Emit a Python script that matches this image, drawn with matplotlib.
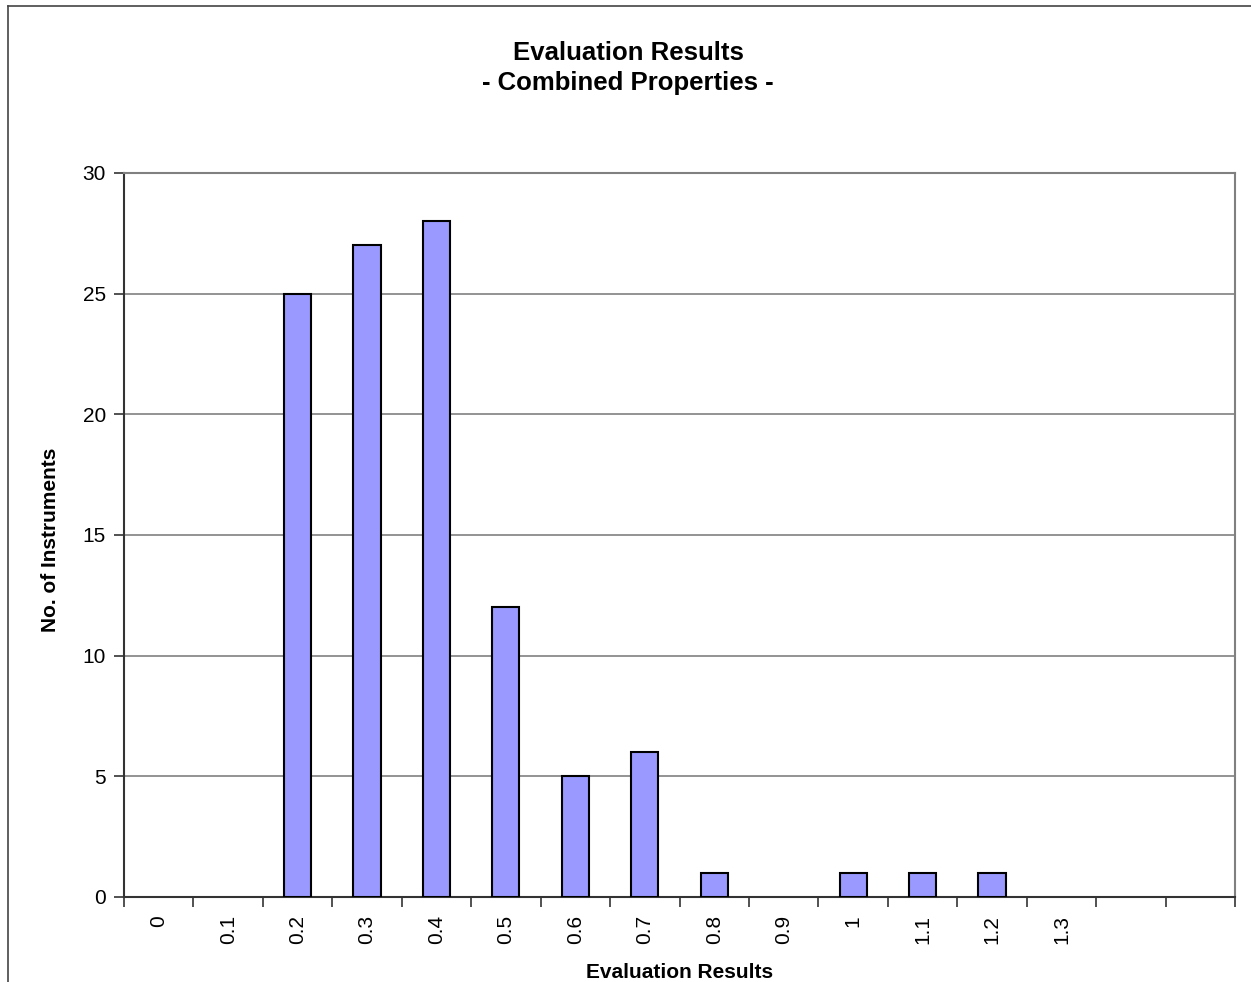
import numpy as np
import matplotlib
matplotlib.use("Agg")
import matplotlib.pyplot as plt
from matplotlib.lines import Line2D

# category labels (two trailing empty slots as in the original sheet)
categories = ["0", "0.1", "0.2", "0.3", "0.4", "0.5", "0.6", "0.7",
              "0.8", "0.9", "1", "1.1", "1.2", "1.3", "", ""]
counts = [0, 0, 25, 27, 28, 12, 5, 6, 1, 0, 1, 1, 1, 0, 0, 0]
yticks = [0, 5, 10, 15, 20, 25, 30]

plt.rcParams["font.family"] = ["Liberation Sans", "DejaVu Sans"]

fig = plt.figure(figsize=(12.51, 9.82), dpi=100)
ax = fig.add_axes([124 / 1251, 1 - 897 / 982, (1235 - 124) / 1251, (897 - 173) / 982])

x = np.arange(len(categories))
vals = np.array(counts)
# empty categories get no bar outline (Excel draws nothing there)
nz = vals > 0
ax.bar(x[nz], vals[nz], width=0.39, color="#9999ff", edgecolor="black", linewidth=1.5, zorder=3)

ax.set_xlim(-0.5, len(categories) - 0.5)
ax.set_ylim(0, 30)
ax.set_yticks(yticks)
ax.set_yticklabels([str(v) for v in yticks], fontsize=15)
ax.yaxis.grid(True, color="#808080", linewidth=1.2, zorder=0)

# labels at centers, tick marks at category boundaries
ax.set_xticks(x)
ax.set_xticklabels(categories, rotation=90, fontsize=15)
ax.tick_params(axis="x", length=0, pad=13)
ax.set_xticks(np.arange(-0.5, len(categories)), minor=True)
ax.tick_params(axis="x", which="minor", length=7, width=1.2, color="#333333", direction="out")
ax.tick_params(axis="y", length=7, width=1.2, color="#333333", direction="out", pad=6)

for side in ["top", "right"]:
    ax.spines[side].set_color("#808080")
    ax.spines[side].set_linewidth(1.5)
for side in ["left", "bottom"]:
    ax.spines[side].set_color("#333333")
    ax.spines[side].set_linewidth(1.5)

ax.set_xlabel("Evaluation Results", fontsize=15, fontweight="bold")
ax.xaxis.set_label_coords(0.5, -0.091)
ax.set_ylabel("No. of Instruments", fontsize=15, fontweight="bold")
ax.yaxis.set_label_coords(-0.058, 0.493)

fig.text(628 / 1251, 1 - 53 / 982, "Evaluation Results", ha="center", va="center",
         fontsize=18.5, fontweight="bold")
fig.text(628 / 1251, 1 - 83 / 982, "- Combined Properties -", ha="center", va="center",
         fontsize=18.5, fontweight="bold")

# outer chart-area border (left and top visible in the crop)
fig.add_artist(Line2D([7.5 / 1251, 7.5 / 1251], [0, 1 - 6 / 982], color="#444444", linewidth=1.2))
fig.add_artist(Line2D([7.5 / 1251, 1], [1 - 6 / 982, 1 - 6 / 982], color="#444444", linewidth=1.2))

plt.savefig("out.png", dpi=100)
